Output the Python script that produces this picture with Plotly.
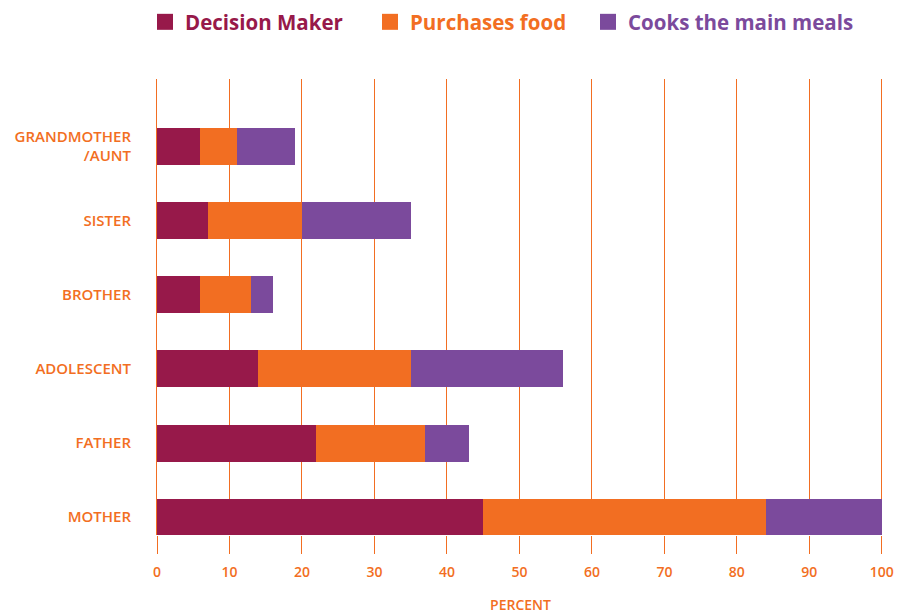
import plotly.graph_objects as go

categories = ["MOTHER", "FATHER", "ADOLESCENT", "BROTHER", "SISTER", "GRANDMOTHER<br>/AUNT"]
decision_maker = [45, 22, 14, 6, 7, 6]
purchases_food = [39, 15, 21, 7, 13, 5]
cooks_meals = [16, 6, 21, 3, 15, 8]
x_ticks = [0, 10, 20, 30, 40, 50, 60, 70, 80, 90, 100]

C_DM = "#97194A"
C_PF = "#F26E22"
C_CM = "#7B4A9C"
ORANGE = "#F26E22"
FONT = "Open Sans, sans-serif"

series = [
    ("Decision Maker", decision_maker, C_DM, "legend", 145),
    ("Purchases food", purchases_food, C_PF, "legend2", 370),
    ("Cooks the main meals", cooks_meals, C_CM, "legend3", 588),
]

fig = go.Figure()
for name, vals, col, lg, lx in series:
    fig.add_trace(go.Bar(
        y=categories, x=vals, orientation="h",
        name=name, showlegend=False,
        marker=dict(color=col, line=dict(width=0)),
    ))
for name, vals, col, lg, lx in series:
    fig.add_trace(go.Scatter(
        x=[None], y=[None], mode="markers",
        name=f"<span style='color:{col}'>{name}</span>",
        marker=dict(color=col, symbol="square", size=16),
        showlegend=True, legend=lg,
    ))

legend_common = dict(
    orientation="h", xref="container", yref="container",
    xanchor="left", y=1 - 22 / 615, yanchor="middle",
    font=dict(size=20.5, family=FONT, weight="bold"),
    itemsizing="trace", bgcolor="rgba(0,0,0,0)",
)

fig.update_layout(
    barmode="stack",
    bargap=0.5,
    width=897, height=615,
    margin=dict(l=157, r=13, t=79, b=80, autoexpand=False),
    paper_bgcolor="white", plot_bgcolor="white",
    font=dict(family=FONT, color=ORANGE),
    legend=dict(legend_common, x=series[0][4] / 897),
    legend2=dict(legend_common, x=series[1][4] / 897),
    legend3=dict(legend_common, x=series[2][4] / 897),
    xaxis=dict(
        range=[0, 100.3], tickvals=x_ticks, ticktext=[str(v) for v in x_ticks],
        showgrid=True, gridcolor=ORANGE, gridwidth=1,
        zeroline=False, showline=False, automargin=False,
        ticks="outside", ticklen=18, tickcolor=ORANGE, tickwidth=1,
        ticklabelstandoff=6,
        tickfont=dict(size=14, color=ORANGE, family=FONT, weight=600),
        title=dict(text="PERCENT", font=dict(size=14, color=ORANGE, family=FONT, weight=600), standoff=20),
    ),
    yaxis=dict(
        categoryorder="array", categoryarray=categories,
        range=[-0.24, 5.91], automargin=False,
        showgrid=False, zeroline=False,
        showline=True, linecolor=ORANGE, linewidth=1,
        ticks="outside", ticklen=22, tickcolor="rgba(0,0,0,0)",
        tickfont=dict(size=15, color=ORANGE, family=FONT, weight=600),
    ),
)

fig.write_html("out.html", post_script="document.body.style.margin='0';",
               config={"displayModeBar": False})
